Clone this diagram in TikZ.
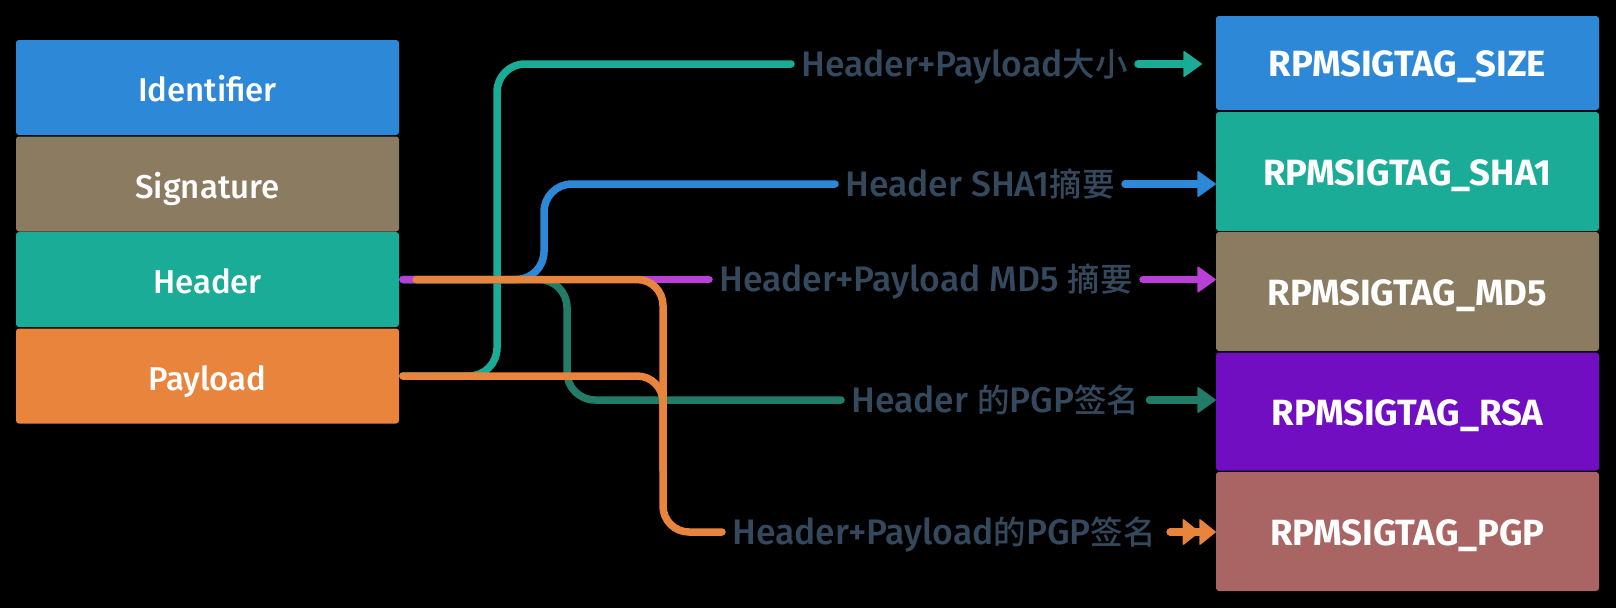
\documentclass[tikz,border=0pt]{standalone}
\usepackage{fontspec}
\setmainfont{Fira Sans}[UprightFont=* Medium, BoldFont=* Bold]
\newfontfamily\cjk{Noto Sans CJK SC}[UprightFont=* Medium]
\usetikzlibrary{arrows.meta}
\definecolor{cblue}{HTML}{2D88D8}
\definecolor{ctan}{HTML}{8A7B61}
\definecolor{cteal}{HTML}{1BAC98}
\definecolor{corange}{HTML}{E8843C}
\definecolor{cpurple}{HTML}{710EC1}
\definecolor{crose}{HTML}{A96564}
\definecolor{cmagenta}{HTML}{B93FD6}
\definecolor{cgreen}{HTML}{237C68}
\definecolor{clabel}{HTML}{34495E}
\newcommand{\zh}[1]{{\cjk\fontsize{32.5}{36}\selectfont #1}}
\tikzset{
  lbox/.style={minimum width=383pt, minimum height=95pt, rounded corners=3pt, inner sep=0pt,
    text height=28pt, text depth=0pt,
    text=white, font=\fontsize{33}{36}\selectfont},
  rbox/.style={minimum width=383pt, minimum height=119pt, rounded corners=3pt, inner sep=0pt,
    text height=27pt, text depth=0pt,
    text=white, font=\fontsize{36.5}{40}\selectfont\bfseries},
  lab/.style={anchor=west, inner sep=0pt, text height=25pt, text depth=1pt, text=clabel,
    font=\fontsize{35.5}{38}\selectfont},
  conn/.style={line width=7.5pt, line cap=round},
  tip/.style={-{Triangle[length=19pt,width=27pt,line width=1.5pt,round]}},
  dtip/.style={-{Triangle[length=17pt,width=27pt,line width=1.5pt,round]Triangle[length=17pt,width=27pt,line width=1.5pt,round]}}
}
\begin{document}
\begin{tikzpicture}[x=1pt,y=-1pt]
\fill[black] (0,0) rectangle (1616,608);
\useasboundingbox (0,0) rectangle (1616,608);
% left stack
\node[lbox, fill=cblue]   (ident) at (207.5,87.5) {Identifier};
\node[lbox, fill=ctan]    (sig)   at (207.5,184) {Signature};
\node[lbox, fill=cteal]   (hdr)   at (207.5,279.5) {Header};
\node[lbox, fill=corange] (pay)   at (207.5,376) {Payload};
% right stack
\node[rbox, fill=cblue, minimum height=94pt] (tsize) at (1407.5,63) {RPMSIGTAG\_SIZE};
\node[rbox, fill=cteal]   (tsha) at (1407.5,171.5) {RPMSIGTAG\_SHA1};
\node[rbox, fill=ctan]    (tmd)  at (1407.5,291.5) {RPMSIGTAG\_MD5};
\node[rbox, fill=cpurple, minimum height=118pt] (trsa) at (1407.5,411.5) {RPMSIGTAG\_RSA};
\node[rbox, fill=crose]   (tpgp) at (1407.5,531.5) {RPMSIGTAG\_PGP};
% labels
\node[lab] (l1) at (801,64)  {Header+Payload\zh{大小}};
\node[lab] (l2) at (845,184) {Header SHA1\zh{摘要}};
\node[lab] (l3) at (719,279.5) {Header+Payload MD5 \zh{摘要}};
\node[lab] (l4) at (851,400) {Header \zh{的}PGP\zh{签名}};
\node[lab] (l5) at (732,532) {Header+Payload\zh{的}PGP\zh{签名}};
% connectors to labels
\draw[conn, cteal, rounded corners=28pt] ([xshift=3.75pt]pay.east) -| (497,64) -- ([xshift=-10pt]l1.west);
\draw[conn, cblue, rounded corners=28pt] ([xshift=3.75pt]hdr.east) -| (544,184) -- ([xshift=-10pt]l2.west);
\draw[conn, cgreen, rounded corners=28pt] ([xshift=3.75pt]hdr.east) -| (567,400) -- ([xshift=-10pt]l4.west);
\draw[conn, cmagenta] ([xshift=3.75pt]hdr.east) -- ([xshift=-10pt]l3.west);
\draw[conn, corange, rounded corners=26pt] ([xshift=3.75pt]pay.east) -| (663,470);
\draw[conn, corange, rounded corners=26pt] ([xshift=17pt]hdr.east) -| (663,532) -- ([xshift=-10pt]l5.west);
% arrows to tags
\draw[conn, cteal, tip]    ([xshift=10pt]l1.east) -- ([xshift=-14pt]l1.east -| tsize.west);
\draw[conn, cblue, tip]    ([xshift=10pt]l2.east) -- (l2.east -| tsha.west);
\draw[conn, cmagenta, tip] ([xshift=10pt]l3.east) -- (l3.east -| tmd.west);
\draw[conn, cgreen, tip]   ([xshift=10pt]l4.east) -- (l4.east -| trsa.west);
\draw[conn, corange, dtip] ([xshift=14pt]l5.east) -- (l5.east -| tpgp.west);
\end{tikzpicture}
\end{document}
